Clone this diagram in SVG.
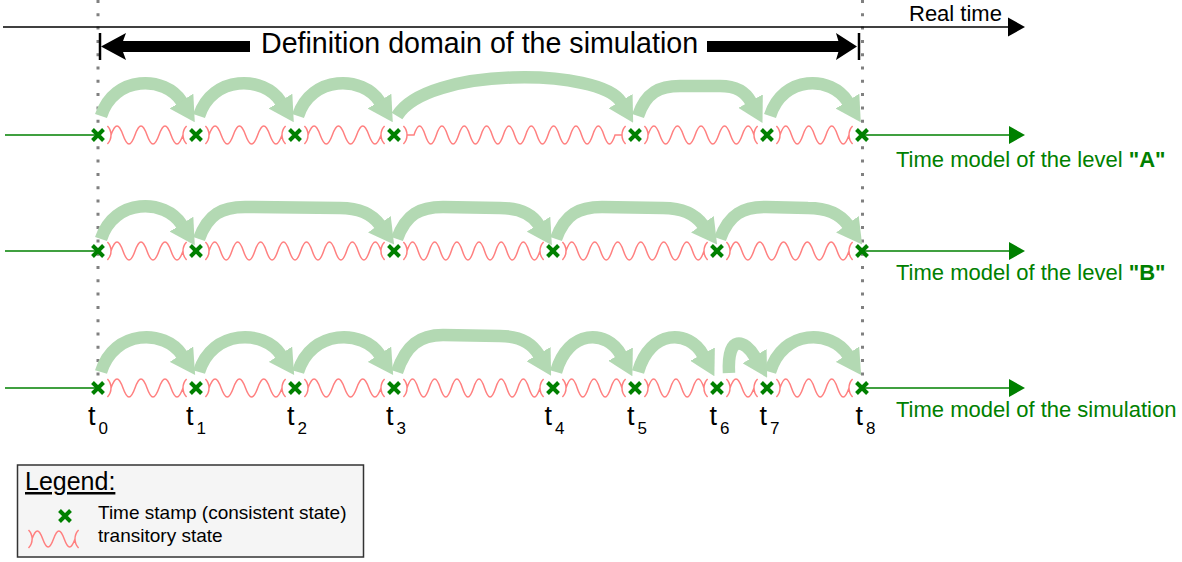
<svg xmlns="http://www.w3.org/2000/svg" xmlns:xlink="http://www.w3.org/1999/xlink" width="1182" height="562" viewBox="0 0 1182 562">
<defs>
<style>
text{font-family:"Liberation Sans",Arial,sans-serif;fill:#000}
.wave{fill:none;stroke:#ff8080;stroke-width:1.5}
.jump{fill:none;stroke:#b3d9b3;stroke-width:12.5;marker-end:url(#gh)}
.axis{stroke:#008000;stroke-width:1.5}
.dot{stroke:#808080;stroke-width:3;stroke-dasharray:3 10.3}
.lbl{font-size:22px;fill:#008000}
.t{font-size:27px}
.ts{font-size:17px}
.leg{font-size:19px}
</style>
<marker id="gh" markerUnits="userSpaceOnUse" viewBox="0 0 25 28" refX="1" refY="14" markerWidth="25" markerHeight="28" orient="auto"><path d="M0,0 L25,14 L0,28 z" fill="#b3d9b3"/></marker>
<path id="cross" d="M-5.5,-5.5 L5.5,5.5 M-5.5,5.5 L5.5,-5.5" stroke="#008000" stroke-width="4" fill="none"/>
</defs>
<rect width="1182" height="562" fill="#fff"/>

<g id="domain-bounds">
<line class="dot" x1="98" y1="0" x2="98" y2="397"/>
<line class="dot" x1="862.5" y1="0" x2="862.5" y2="397"/>
</g>

<g id="real-time">
<line x1="3" y1="27" x2="1010" y2="27" stroke="#000" stroke-width="1.5"/>
<polygon points="1008,17.5 1025,27 1008,36.5" fill="#000"/>
<text x="909" y="21" font-size="22">Real time</text>
</g>

<g id="definition-domain">
<rect x="118" y="41" width="132" height="11" fill="#000"/>
<polygon points="101,46.5 126,33 121,46.5 126,60" fill="#000"/>
<rect x="707" y="41" width="134" height="11" fill="#000"/>
<polygon points="857,46.5 836,33 840,46.5 836,60" fill="#000"/>
<line x1="100" y1="33" x2="100" y2="60" stroke="#000" stroke-width="2.5"/>
<line x1="859" y1="33" x2="859" y2="60" stroke="#000" stroke-width="2.5"/>
<text x="261" y="53" font-size="28.6">Definition domain of the simulation</text>
</g>

<g id="level-A">
<line class="axis" x1="5" y1="135" x2="98" y2="135"/>
<line class="axis" x1="862" y1="135" x2="1010" y2="135"/>
<polygon points="1009,126 1025,135 1009,144" fill="#008000"/>
<path class="wave" d="M107.4,126 A13,13 0 0 1 107.4,144 M205.4,126 A13,13 0 0 1 205.4,144 M304.4,126 A13,13 0 0 1 304.4,144 M403.4,126 A13,13 0 0 1 403.4,144 M644.4,126 A13,13 0 0 1 644.4,144 M776.4,126 A13,13 0 0 1 776.4,144
M186.6,126 A13,13 0 0 0 186.6,144 M285.6,126 A13,13 0 0 0 285.6,144 M384.6,126 A13,13 0 0 0 384.6,144 M625.6,126 A13,13 0 0 0 625.6,144 M757.6,126 A13,13 0 0 0 757.6,144 M852.6,126 A13,13 0 0 0 852.6,144
M111,135 c4.32,-12 7.68,-12 12,0 s7.68,12 12,0 s7.68,-12 12,0 s7.68,12 12,0 s7.68,-12 12,0 s7.68,12 12,0
M209,135 c4.38,-12 7.79,-12 12.17,0 s7.79,12 12.17,0 s7.79,-12 12.17,0 s7.79,12 12.17,0 s7.79,-12 12.17,0 s7.79,12 12.17,0
M308,135 c4.38,-12 7.79,-12 12.17,0 s7.79,12 12.17,0 s7.79,-12 12.17,0 s7.79,12 12.17,0 s7.79,-12 12.17,0 s7.79,12 12.17,0
M407,135 l7,0 c4.02,-12 7.15,-12 11.17,0 s7.15,12 11.17,0 s7.15,-12 11.17,0 s7.15,12 11.17,0 s7.15,-12 11.17,0 s7.15,12 11.17,0 s7.15,-12 11.17,0 s7.15,12 11.17,0 s7.15,-12 11.17,0 s7.15,12 11.17,0 s7.15,-12 11.17,0 s7.15,12 11.17,0 s7.15,-12 11.17,0 s7.15,12 11.17,0 s7.15,-12 11.17,0 s7.15,12 11.17,0 s7.15,-12 11.17,0 s7.15,12 11.17,0 l7,0
M648,135 c4.24,-12 7.54,-12 11.78,0 s7.54,12 11.78,0 s7.54,-12 11.78,0 s7.54,12 11.78,0 s7.54,-12 11.78,0 s7.54,12 11.78,0 s7.54,-12 11.78,0 s7.54,12 11.78,0 s7.54,-12 11.78,0
M780,135 c4.14,-12 7.36,-12 11.5,0 s7.36,12 11.5,0 s7.36,-12 11.5,0 s7.36,12 11.5,0 s7.36,-12 11.5,0 s7.36,12 11.5,0"/>
<text class="lbl" x="896" y="167">Time model of the level <tspan font-weight="bold">"A"</tspan></text>
<g id="A-t0"><use xlink:href="#cross" x="98" y="135"/></g>
<g id="A-t1"><use xlink:href="#cross" x="196" y="135"/></g>
<g id="A-t2"><use xlink:href="#cross" x="295" y="135"/></g>
<g id="A-t3"><use xlink:href="#cross" x="394" y="135"/></g>
<g id="A-t5"><use xlink:href="#cross" x="635" y="135"/></g>
<g id="A-t7"><use xlink:href="#cross" x="767" y="135"/></g>
<g id="A-t8"><use xlink:href="#cross" x="862" y="135"/></g>
</g>

<g id="level-B">
<line class="axis" x1="5" y1="251" x2="98" y2="251"/>
<line class="axis" x1="862" y1="251" x2="1010" y2="251"/>
<polygon points="1009,242 1025,251 1009,260" fill="#008000"/>
<path class="wave" d="M107.4,242 A13,13 0 0 1 107.4,260 M205.4,242 A13,13 0 0 1 205.4,260 M403.4,242 A13,13 0 0 1 403.4,260 M562.4,242 A13,13 0 0 1 562.4,260 M726.4,242 A13,13 0 0 1 726.4,260
M186.6,242 A13,13 0 0 0 186.6,260 M384.6,242 A13,13 0 0 0 384.6,260 M543.6,242 A13,13 0 0 0 543.6,260 M707.6,242 A13,13 0 0 0 707.6,260 M852.6,242 A13,13 0 0 0 852.6,260
M111,251 c4.32,-12 7.68,-12 12,0 s7.68,12 12,0 s7.68,-12 12,0 s7.68,12 12,0 s7.68,-12 12,0 s7.68,12 12,0
M209,251 c4.13,-12 7.34,-12 11.47,0 s7.34,12 11.47,0 s7.34,-12 11.47,0 s7.34,12 11.47,0 s7.34,-12 11.47,0 s7.34,12 11.47,0 s7.34,-12 11.47,0 s7.34,12 11.47,0 s7.34,-12 11.47,0 s7.34,12 11.47,0 s7.34,-12 11.47,0 s7.34,12 11.47,0 s7.34,-12 11.47,0 s7.34,12 11.47,0 s7.34,-12 11.47,0
M407,251 c3.99,-12 7.09,-12 11.08,0 s7.09,12 11.08,0 s7.09,-12 11.08,0 s7.09,12 11.08,0 s7.09,-12 11.08,0 s7.09,12 11.08,0 s7.09,-12 11.08,0 s7.09,12 11.08,0 s7.09,-12 11.08,0 s7.09,12 11.08,0 s7.09,-12 11.08,0 s7.09,12 11.08,0
M566,251 c4.14,-12 7.36,-12 11.5,0 s7.36,12 11.5,0 s7.36,-12 11.5,0 s7.36,12 11.5,0 s7.36,-12 11.5,0 s7.36,12 11.5,0 s7.36,-12 11.5,0 s7.36,12 11.5,0 s7.36,-12 11.5,0 s7.36,12 11.5,0 s7.36,-12 11.5,0 s7.36,12 11.5,0
M730,251 c4.28,-12 7.62,-12 11.9,0 s7.62,12 11.9,0 s7.62,-12 11.9,0 s7.62,12 11.9,0 s7.62,-12 11.9,0 s7.62,12 11.9,0 s7.62,-12 11.9,0 s7.62,12 11.9,0 s7.62,-12 11.9,0 s7.62,12 11.9,0"/>
<text class="lbl" x="896" y="280">Time model of the level <tspan font-weight="bold">"B"</tspan></text>
<g id="B-t0"><use xlink:href="#cross" x="98" y="251"/></g>
<g id="B-t1"><use xlink:href="#cross" x="196" y="251"/></g>
<g id="B-t3"><use xlink:href="#cross" x="394" y="251"/></g>
<g id="B-t4"><use xlink:href="#cross" x="553" y="251"/></g>
<g id="B-t6"><use xlink:href="#cross" x="717" y="251"/></g>
<g id="B-t8"><use xlink:href="#cross" x="862" y="251"/></g>
</g>

<g id="simulation">
<line class="axis" x1="5" y1="388" x2="98" y2="388"/>
<line class="axis" x1="862" y1="388" x2="1010" y2="388"/>
<polygon points="1009,379 1025,388 1009,397" fill="#008000"/>
<path class="wave" d="M107.4,379 A13,13 0 0 1 107.4,397 M205.4,379 A13,13 0 0 1 205.4,397 M304.4,379 A13,13 0 0 1 304.4,397 M403.4,379 A13,13 0 0 1 403.4,397 M562.4,379 A13,13 0 0 1 562.4,397 M644.4,379 A13,13 0 0 1 644.4,397 M726.4,379 A13,13 0 0 1 726.4,397 M776.4,379 A13,13 0 0 1 776.4,397
M186.6,379 A13,13 0 0 0 186.6,397 M285.6,379 A13,13 0 0 0 285.6,397 M384.6,379 A13,13 0 0 0 384.6,397 M543.6,379 A13,13 0 0 0 543.6,397 M625.6,379 A13,13 0 0 0 625.6,397 M707.6,379 A13,13 0 0 0 707.6,397 M757.6,379 A13,13 0 0 0 757.6,397 M852.6,379 A13,13 0 0 0 852.6,397
M111,388 c4.32,-12 7.68,-12 12,0 s7.68,12 12,0 s7.68,-12 12,0 s7.68,12 12,0 s7.68,-12 12,0 s7.68,12 12,0
M209,388 c4.38,-12 7.79,-12 12.17,0 s7.79,12 12.17,0 s7.79,-12 12.17,0 s7.79,12 12.17,0 s7.79,-12 12.17,0 s7.79,12 12.17,0
M308,388 c4.38,-12 7.79,-12 12.17,0 s7.79,12 12.17,0 s7.79,-12 12.17,0 s7.79,12 12.17,0 s7.79,-12 12.17,0 s7.79,12 12.17,0
M407,388 c3.99,-12 7.09,-12 11.08,0 s7.09,12 11.08,0 s7.09,-12 11.08,0 s7.09,12 11.08,0 s7.09,-12 11.08,0 s7.09,12 11.08,0 s7.09,-12 11.08,0 s7.09,12 11.08,0 s7.09,-12 11.08,0 s7.09,12 11.08,0 s7.09,-12 11.08,0 s7.09,12 11.08,0
M566,388 c4.03,-12 7.17,-12 11.2,0 s7.17,12 11.2,0 s7.17,-12 11.2,0 s7.17,12 11.2,0 s7.17,-12 11.2,0
M648,388 c4.03,-12 7.17,-12 11.2,0 s7.17,12 11.2,0 s7.17,-12 11.2,0 s7.17,12 11.2,0 s7.17,-12 11.2,0
M730,388 c4.32,-12 7.68,-12 12,0 s7.68,12 12,0
M780,388 c4.14,-12 7.36,-12 11.5,0 s7.36,12 11.5,0 s7.36,-12 11.5,0 s7.36,12 11.5,0 s7.36,-12 11.5,0 s7.36,12 11.5,0"/>
<text class="lbl" x="896" y="417">Time model of the simulation</text>
<g id="S-t0"><use xlink:href="#cross" x="98" y="388"/></g>
<g id="S-t1"><use xlink:href="#cross" x="196" y="388"/></g>
<g id="S-t2"><use xlink:href="#cross" x="295" y="388"/></g>
<g id="S-t3"><use xlink:href="#cross" x="394" y="388"/></g>
<g id="S-t4"><use xlink:href="#cross" x="553" y="388"/></g>
<g id="S-t5"><use xlink:href="#cross" x="635" y="388"/></g>
<g id="S-t6"><use xlink:href="#cross" x="717" y="388"/></g>
<g id="S-t7"><use xlink:href="#cross" x="767" y="388"/></g>
<g id="S-t8"><use xlink:href="#cross" x="862" y="388"/></g>
</g>

<g id="time-labels">
<text class="t" x="88" y="425">t<tspan class="ts" dx="3" dy="9">0</tspan></text>
<text class="t" x="186" y="425">t<tspan class="ts" dx="3" dy="9">1</tspan></text>
<text class="t" x="287" y="425">t<tspan class="ts" dx="3" dy="9">2</tspan></text>
<text class="t" x="386" y="425">t<tspan class="ts" dx="3" dy="9">3</tspan></text>
<text class="t" x="544.5" y="425">t<tspan class="ts" dx="3" dy="9">4</tspan></text>
<text class="t" x="627" y="425">t<tspan class="ts" dx="3" dy="9">5</tspan></text>
<text class="t" x="709.5" y="425">t<tspan class="ts" dx="3" dy="9">6</tspan></text>
<text class="t" x="759.5" y="425">t<tspan class="ts" dx="3" dy="9">7</tspan></text>
<text class="t" x="855.5" y="425">t<tspan class="ts" dx="3" dy="9">8</tspan></text>
</g>

<g id="jumps">
<path class="jump" d="M101,116 C114,75 165,75 182,102"/>
<path class="jump" d="M199,116 C212,75 264,75 281,102"/>
<path class="jump" d="M298,116 C311,75 363,75 380,102"/>
<path class="jump" d="M397,116 C427,66 601,68 621,102"/>
<path class="jump" d="M638,116 C646,92 660,86 680,86 L720,86 C736,86 745,91 751,102"/>
<path class="jump" d="M770,116 C783,75 831,75 848,102"/>
<path class="jump" d="M101,239 C114,198 165,198 182,225"/>
<path class="jump" d="M199,239 C208,214 222,207 245,207 L340,208 C360,208 372,214 380,225"/>
<path class="jump" d="M397,239 C406,214 420,207 443,207 L500,208 C520,208 532,214 539,225"/>
<path class="jump" d="M556,239 C565,214 579,207 602,207 L663,208 C683,208 695,214 703,225"/>
<path class="jump" d="M720,239 C729,214 743,207 766,207 L808,208 C828,208 840,214 848,225"/>
<path class="jump" d="M101,372 C114,329 165,329 182,355"/>
<path class="jump" d="M199,372 C212,329 264,329 281,355"/>
<path class="jump" d="M298,372 C311,329 363,329 380,355"/>
<path class="jump" d="M397,372 C406,345 420,335 443,335 L500,336 C520,336 532,343 539,355"/>
<path class="jump" d="M556,372 C568,329 607,329 621,355"/>
<path class="jump" d="M638,372 C650,329 689,329 703,355"/>
<path class="jump" d="M729,373 C727,333 745,340 755,357"/>
<path class="jump" d="M770,372 C783,329 831,329 848,355"/>
</g>

<g id="legend">
<rect x="17.5" y="465" width="346" height="92" fill="#f5f5f5" stroke="#333" stroke-width="1.5"/>
<text x="25" y="490" font-size="25" text-decoration="underline">Legend:</text>
<use xlink:href="#cross" x="65" y="516"/>
<text class="leg" x="98" y="519">Time stamp (consistent state)</text>
<path class="wave" d="M28.5,530 A13,13 0 0 1 28.5,548 M32,539 c3.87,-10.67 6.88,-10.67 10.75,0 s6.88,10.67 10.75,0 s6.88,-10.67 10.75,0 s6.88,10.67 10.75,0 M78.6,530 A13,13 0 0 0 78.6,548"/>
<text class="leg" x="98" y="542">transitory state</text>
</g>
</svg>
